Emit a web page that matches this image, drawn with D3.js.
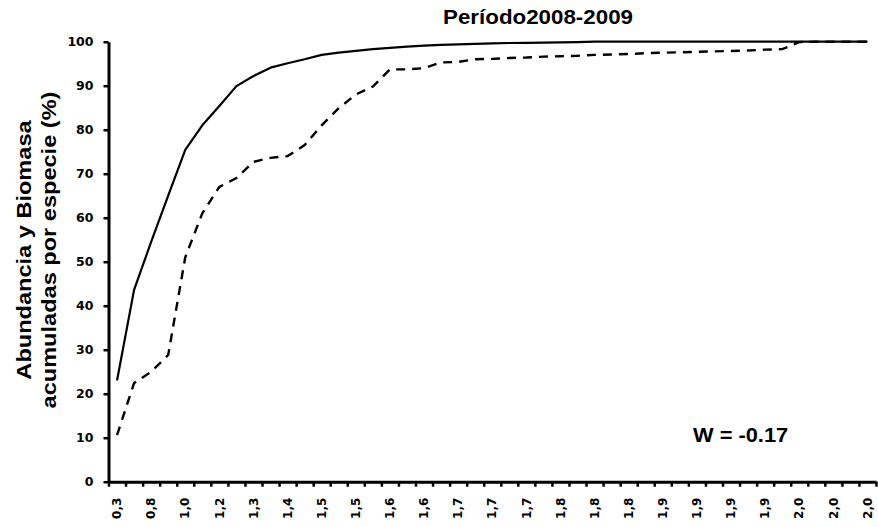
<!DOCTYPE html>
<html>
<head>
<meta charset="utf-8">
<script src="https://cdn.jsdelivr.net/npm/d3@7"></script>
<style>
  html, body { margin: 0; padding: 0; background: #fff; }
  svg { display: block; }
</style>
</head>
<body>
<script>
// Cumulative abundance and biomass per species (ABC curves), 2008-2009
const abundance = [23, 43.6, 54.5, 65, 75.4, 81, 85.4, 89.9, 92.2, 94.1, 95.1, 96, 97, 97.5, 97.9,
  98.3, 98.6, 98.9, 99.1, 99.3, 99.4, 99.5, 99.6, 99.7, 99.75, 99.8, 99.85, 99.9, 100, 100,
  100, 100, 100, 100, 100, 100, 100, 100, 100, 100, 100, 100, 100, 100, 100];
const biomass = [10.6, 22.4, 25, 28.8, 51, 61, 67, 69, 72.7, 73.6, 74, 76.5, 81, 84.9, 88,
  89.8, 93.7, 93.7, 94, 95.3, 95.4, 96, 96.1, 96.3, 96.4, 96.6, 96.7, 96.8, 97, 97.1,
  97.2, 97.4, 97.5, 97.6, 97.7, 97.8, 97.9, 98, 98.2, 98.3, 99.9, 100, 100, 100, 100];
// species ranks; every second rank carries a class label
const ranks = d3.range(1, abundance.length + 1);
const classLabels = ["0,3", "0,8", "1,0", "1,2", "1,3", "1,4", "1,5", "1,5", "1,6", "1,6", "1,7", "1,7",
  "1,7", "1,8", "1,8", "1,8", "1,9", "1,9", "1,9", "1,9", "2,0", "2,0", "2,0"];
const yTicks = [0, 10, 20, 30, 40, 50, 60, 70, 80, 90, 100];
const titleText = "Período2008-2009";
const yTitleLines = ["Abundancia y Biomasa", "acumuladas por especie (%)"];
const statText = "W = -0.17";

const W = 878, H = 527;
const plotLeft = 108.5, plotRight = 876, plotTop = 41.7, plotBottom = 481.7;

const svg = d3.select("body").append("svg").attr("width", W).attr("height", H);
svg.append("rect").attr("width", W).attr("height", H).attr("fill", "#fff");

const x = d3.scaleBand().domain(ranks).range([plotLeft, plotRight]).padding(0);
const xEdge = d3.scaleLinear().domain([0, ranks.length]).range([plotLeft, plotRight]);
const y = d3.scaleLinear().domain([0, 100]).range([plotBottom, plotTop]);

const cx = r => x(r) + x.bandwidth() / 2;

// x axis: boundary ticks
const xTickAxis = d3.axisBottom(xEdge).tickValues(d3.range(0, ranks.length + 1))
  .tickFormat("").tickSize(5).tickSizeOuter(0);
const gx = svg.append("g").attr("transform", `translate(0,${plotBottom})`).call(xTickAxis);
gx.select(".domain").attr("stroke", "#000").attr("stroke-width", 3);
gx.selectAll(".tick line").attr("stroke", "#000").attr("stroke-width", 2.5);

// x axis: rotated class labels on every second rank
const labelRanks = ranks.filter((r, i) => i % 2 === 0);
const xLabAxis = d3.axisBottom(x).tickValues(labelRanks)
  .tickFormat((r, i) => classLabels[i]).tickSize(0);
const gxl = svg.append("g").attr("transform", `translate(0,${plotBottom})`).call(xLabAxis);
gxl.select(".domain").remove();
gxl.selectAll(".tick text")
  .attr("font-family", "'DejaVu Sans', Verdana, sans-serif")
  .attr("font-weight", "bold")
  .attr("font-size", 12)
  .attr("fill", "#000")
  .attr("text-anchor", "end")
  .attr("dy", "0.35em")
  .attr("transform", "translate(0,16) rotate(-90)")
  .attr("x", 0).attr("y", 0);

// y axis
const yAxis = d3.axisLeft(y).tickValues(yTicks).tickSize(5).tickSizeOuter(0).tickPadding(10);
const gy = svg.append("g").attr("transform", `translate(${plotLeft},0)`).call(yAxis);
gy.select(".domain").attr("stroke", "#000").attr("stroke-width", 3);
gy.selectAll(".tick line").attr("stroke", "#000").attr("stroke-width", 2.5);
gy.selectAll(".tick text")
  .attr("font-family", "'DejaVu Sans', Verdana, sans-serif")
  .attr("font-weight", "bold")
  .attr("font-size", 12.5)
  .attr("fill", "#000");

// curves
const line = d3.line().x((d, i) => cx(ranks[i])).y(d => y(d));
svg.append("path").datum(abundance)
  .attr("d", line).attr("fill", "none").attr("stroke", "#000")
  .attr("stroke-width", 2.2).attr("stroke-linejoin", "round");
svg.append("path").datum(biomass)
  .attr("d", line).attr("fill", "none").attr("stroke", "#000")
  .attr("stroke-width", 2.4).attr("stroke-dasharray", "9,7");

// title
svg.append("text")
  .attr("transform", "translate(538,24) scale(1.09,1)")
  .attr("text-anchor", "middle")
  .attr("font-family", "'Liberation Sans', Arial, sans-serif")
  .attr("font-weight", "bold").attr("font-size", 20.5).attr("fill", "#000")
  .text(titleText);

// y axis title, two lines
const yt = svg.append("g").attr("transform", "translate(0,250) rotate(-90)");
yTitleLines.forEach((t, i) => {
  yt.append("text")
    .attr("transform", `translate(0,${31 + i * 25}) scale(1.15,1)`)
    .attr("text-anchor", "middle")
    .attr("font-family", "'Liberation Sans', Arial, sans-serif")
    .attr("font-weight", "bold").attr("font-size", 20.5).attr("fill", "#000")
    .text(t);
});

// W statistic
svg.append("text")
  .attr("transform", "translate(693,442) scale(1.04,1)")
  .attr("font-family", "'Liberation Sans', Arial, sans-serif")
  .attr("font-weight", "bold").attr("font-size", 21).attr("fill", "#000")
  .text(statText);
</script>
</body>
</html>
